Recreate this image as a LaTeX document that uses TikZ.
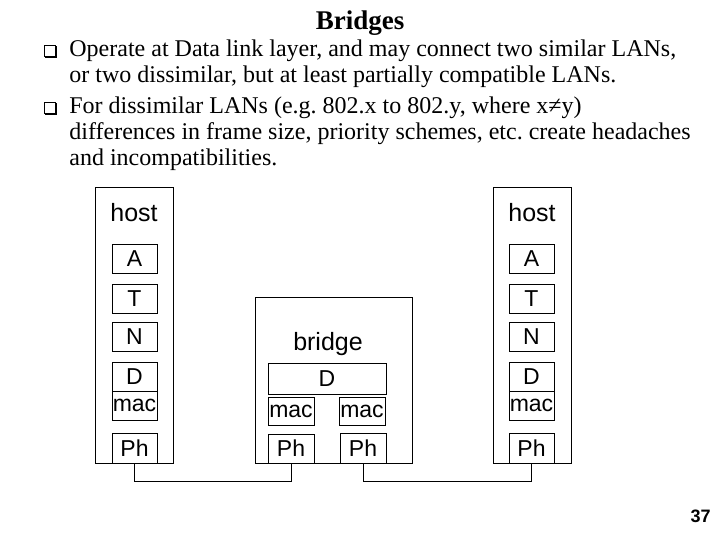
\documentclass[tikz,border=0pt]{standalone}
\usepackage{fontspec}
\setmainfont{Liberation Serif}
\setsansfont{Liberation Sans}
\frenchspacing

\begin{document}
\begin{tikzpicture}[x=1pt, y=-1pt, line width=0.8pt,
    hostbox/.style={draw, inner sep=0pt},
    layerbox/.style={draw, inner sep=0pt, minimum width=45pt, minimum height=29pt,
      font=\sffamily\fontsize{23}{23}\selectfont},
    boxname/.style={inner sep=0pt, font=\sffamily\fontsize{25}{25}\selectfont},
    bodytext/.style={anchor=base west, inner sep=0pt, font=\fontsize{24}{24}\selectfont}]
    \useasboundingbox (0,0) rectangle (720,540);

    % 文を入れる
    \node[anchor=base, inner sep=0pt, font=\bfseries\fontsize{27}{27}\selectfont] (T) at (360,30) {Bridges};
    \node[bodytext] (L1) at (69,57) {Operate at Data link layer, and may connect two similar LANs,};
    \node[bodytext] (L2) at (69,83) {or two dissimilar, but at least partially compatible LANs.};
    \node[bodytext] (L3) at (69,114) {For dissimilar LANs (e.g. 802.x to 802.y, where x≠y)};
    \node[bodytext] (L4) at (69,140) {differences in frame size, priority schemes, etc. create headaches};
    \node[bodytext] (L5) at (69,166) {and incompatibilities.};
    \foreach \y in {45,102} {
      \draw[line width=0.7pt] (44,\y) rectangle (55,\y+11);
      \draw[line width=1.8pt] (45,\y+12) -- (56,\y+12) -- (56,\y+1);
    }

    % 箱を描く
    \node[hostbox, minimum width=78pt, minimum height=276pt] (H1) at (134,325) {};
    \node[hostbox, minimum width=78pt, minimum height=276pt] (H2) at (532,325) {};
    \node[hostbox, minimum width=157pt, minimum height=166pt] (B) at (333.5,380) {};

    \node[boxname] (H1n) at (134,213) {host};
    \node[layerbox] (H1A) at (134.5,258.5) {A};
    \node[layerbox] (H1T) at (134.5,298.5) {T};
    \node[layerbox] (H1N) at (134.5,336.5) {N};
    \node[layerbox] (H1D) at (134.5,376.5) {D};
    \node[layerbox] (H1M) at (134.5,405.5) {mac};
    \node[layerbox, minimum height=30pt] (H1P) at (134.5,448) {Ph};

    \node[boxname] (H2n) at (532,213) {host};
    \node[layerbox] (H2A) at (531.5,258.5) {A};
    \node[layerbox] (H2T) at (531.5,298.5) {T};
    \node[layerbox] (H2N) at (531.5,336.5) {N};
    \node[layerbox] (H2D) at (531.5,376.5) {D};
    \node[layerbox] (H2M) at (531.5,405.5) {mac};
    \node[layerbox, minimum height=30pt] (H2P) at (531.5,448) {Ph};

    \node[boxname] (Bn) at (328,344) {bridge};
    \node[layerbox, minimum width=118pt, minimum height=31pt] (BD) at (327,378.5) {D};
    \node[layerbox, minimum width=46pt, minimum height=28pt] (BM1) at (291,411) {mac};
    \node[layerbox, minimum width=46pt, minimum height=28pt] (BM2) at (362,411) {mac};
    \node[layerbox, minimum width=46pt] (BP1) at (291,448.5) {Ph};
    \node[layerbox, minimum width=46pt, minimum height=30pt] (BP2) at (363,448) {Ph};

    % 線を引く
    \coordinate (LAN) at (0,481);
    \draw (H1P.south) -- (H1P.south |- LAN) -| (BP1.south);
    \draw (BP2.south) -- (BP2.south |- LAN) -| (H2P.south);

    % 番号
    \node[anchor=base east, inner sep=0pt, font=\sffamily\bfseries\fontsize{18}{18}\selectfont] (P) at (711,522) {37};
\end{tikzpicture}
\end{document}
